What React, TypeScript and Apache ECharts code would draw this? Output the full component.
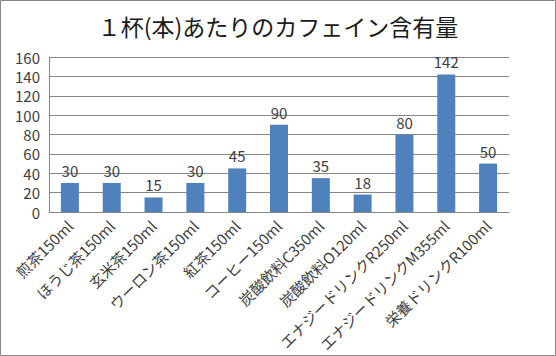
import React, { useEffect, useRef } from "react";
import * as echarts from "echarts";

const categories = [
  "煎茶150ml",
  "ほうじ茶150ml",
  "玄米茶150ml",
  "ウーロン茶150ml",
  "紅茶150ml",
  "コーヒー150ml",
  "炭酸飲料C350ml",
  "炭酸飲料O120ml",
  "エナジードリンクR250ml",
  "エナジードリンクM355ml",
  "栄養ドリンクR100ml",
];
const caffeine = [30, 30, 15, 30, 45, 90, 35, 18, 80, 142, 50];
const titleText = "１杯(本)あたりのカフェイン含有量";

const FONT = "'Noto Sans CJK JP', 'Noto Sans', sans-serif";

export default function App() {
  const ref = useRef<HTMLDivElement>(null);
  useEffect(() => {
    if (!ref.current) return;
    const chart = echarts.init(ref.current, undefined, { renderer: "svg" });
    chart.setOption({
      animation: false,
      backgroundColor: "#ffffff",
      title: {
        text: titleText,
        left: "center",
        top: 9,
        textStyle: { fontFamily: FONT, fontSize: 23, fontWeight: "normal", color: "#1a1a1a" },
      },
      grid: { left: 49, right: 47, top: 57, bottom: 144, containLabel: false },
      xAxis: {
        type: "category",
        data: categories,
        axisLine: { lineStyle: { color: "#868686", width: 1 } },
        axisTick: { show: false },
        axisLabel: {
          rotate: 45,
          interval: 0,
          margin: 11,
          fontFamily: FONT,
          fontSize: 15,
          color: "#404040",
        },
      },
      yAxis: {
        type: "value",
        min: 0,
        max: 160,
        interval: 20,
        axisLine: { show: true, lineStyle: { color: "#868686" } },
        axisTick: { show: false },
        splitLine: { lineStyle: { color: "#868686", width: 1 } },
        axisLabel: { fontFamily: FONT, fontSize: 15, color: "#404040", margin: 9 },
      },
      series: [
        {
          type: "bar",
          data: caffeine,
          barWidth: 18,
          itemStyle: { color: "#4f81bd" },
          label: {
            show: true,
            position: "top",
            distance: 5,
            fontFamily: FONT,
            fontSize: 15,
            color: "#404040",
          },
        },
      ],
      graphic: [
        {
          type: "rect",
          shape: { x: 0.5, y: 0.5, width: 555, height: 355 },
          style: { fill: "none", stroke: "#888888", lineWidth: 1 },
          silent: true,
        },
      ],
    });
    return () => chart.dispose();
  }, []);
  return (
    <div
      ref={ref}
      style={{ position: "absolute", left: 0, top: 0, width: 556, height: 356 }}
    />
  );
}
